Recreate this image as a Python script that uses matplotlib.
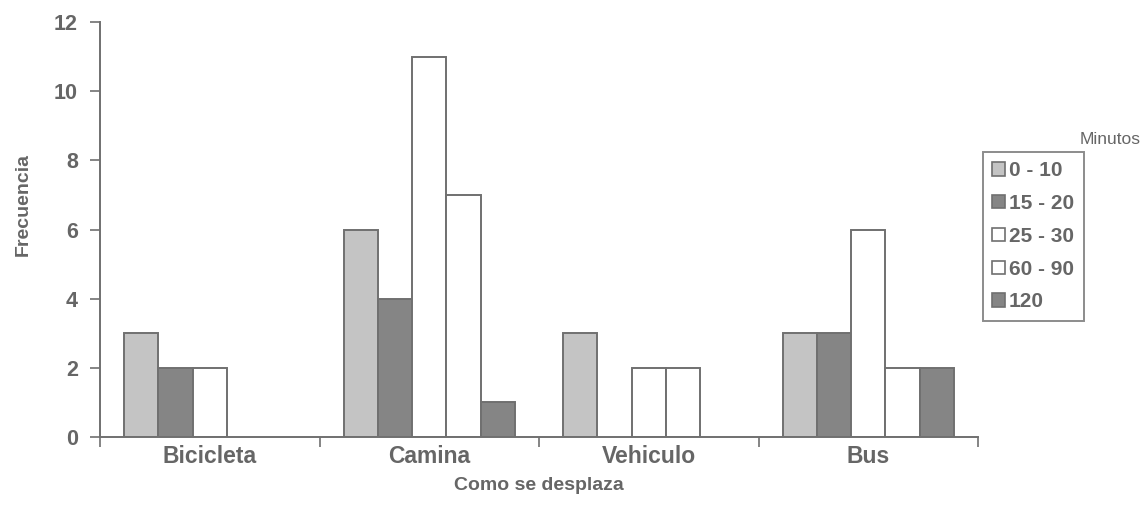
import matplotlib
matplotlib.use("Agg")
import matplotlib.pyplot as plt
from matplotlib.patches import Patch
import numpy as np

categories = ["Bicicleta", "Camina", "Vehiculo", "Bus"]
series_labels = ["0 - 10", "15 - 20", "25 - 30", "60 - 90", "120"]
values = {
    "0 - 10": [3, 6, 3, 3],
    "15 - 20": [2, 4, 0, 3],
    "25 - 30": [2, 11, 2, 6],
    "60 - 90": [0, 7, 2, 2],
    "120": [0, 1, 0, 2],
}
colors = ["#c4c4c4", "#858585", "#ffffff", "#ffffff", "#858585"]
yticks = [0, 2, 4, 6, 8, 10, 12]

plt.rcParams['font.family'] = ['Liberation Sans', 'DejaVu Sans']
txt = "#666666"
edge = "#707070"

fig = plt.figure(figsize=(11.43, 5.17), dpi=100)
ax = fig.add_axes([100/1143, 1-437/517, 878/1143, 415/517])

n = len(series_labels)
bw = 0.156
x = np.arange(len(categories))
handles = []
for i, lab in enumerate(series_labels):
    offs = (i - (n - 1) / 2) * bw
    vals = values[lab]
    h = ax.bar(x + offs, vals, width=bw, color=colors[i], edgecolor=edge,
               linewidth=1.4, label=lab)
    for rect, v in zip(h, vals):
        if v == 0:
            rect.set_visible(False)
    handles.append(Patch(facecolor=colors[i], edgecolor=edge, linewidth=1.2))

ax.set_xlim(-0.5, len(categories) - 0.5)
ax.set_ylim(0, 12)
ax.set_yticks(yticks)
ax.set_yticklabels([str(t) for t in yticks], fontsize=15.5, fontweight='bold', color=txt)
ax.set_xticks(np.arange(len(categories) + 1) - 0.5, minor=False)
ax.set_xticklabels([])
ax.set_xticks(x, minor=True)
ax.set_xticklabels(categories, minor=True, fontsize=16.5, fontweight='bold', color=txt)
ax.tick_params(axis='x', which='minor', length=0, pad=6)
ax.tick_params(axis='x', which='major', length=7, width=1.2, color=edge, direction='out')
ax.tick_params(axis='y', length=7, width=1.2, color=edge, direction='out', pad=9)

for s in ['top', 'right']:
    ax.spines[s].set_visible(False)
for s in ['left', 'bottom']:
    ax.spines[s].set_color(edge)
    ax.spines[s].set_linewidth(1.4)

ax.set_xlabel("Como se desplaza", fontsize=14, fontweight='bold', color=txt, labelpad=6)
ax.set_ylabel("Frecuencia", fontsize=14, fontweight='bold', color=txt)
ax.yaxis.set_label_coords(-68/878, 0.56)

leg = fig.legend(handles=handles, labels=series_labels, loc='upper left',
                 bbox_to_anchor=(983/1143, 1-152/517), frameon=True,
                 prop={'size': 15, 'weight': 'bold'}, handlelength=0.6,
                 handleheight=0.6, handletextpad=0.2, labelspacing=0.66,
                 borderpad=0.45, borderaxespad=0, fancybox=False)
leg.get_frame().set_edgecolor(edge)
leg.get_frame().set_linewidth(1.4)
for t in leg.get_texts():
    t.set_color(txt)
fig.text(1141/1143, 1-140/517, "Minutos", ha='right', va='center', fontsize=12.5, color=txt)

fig.savefig("out.png", dpi=100, facecolor='white')
